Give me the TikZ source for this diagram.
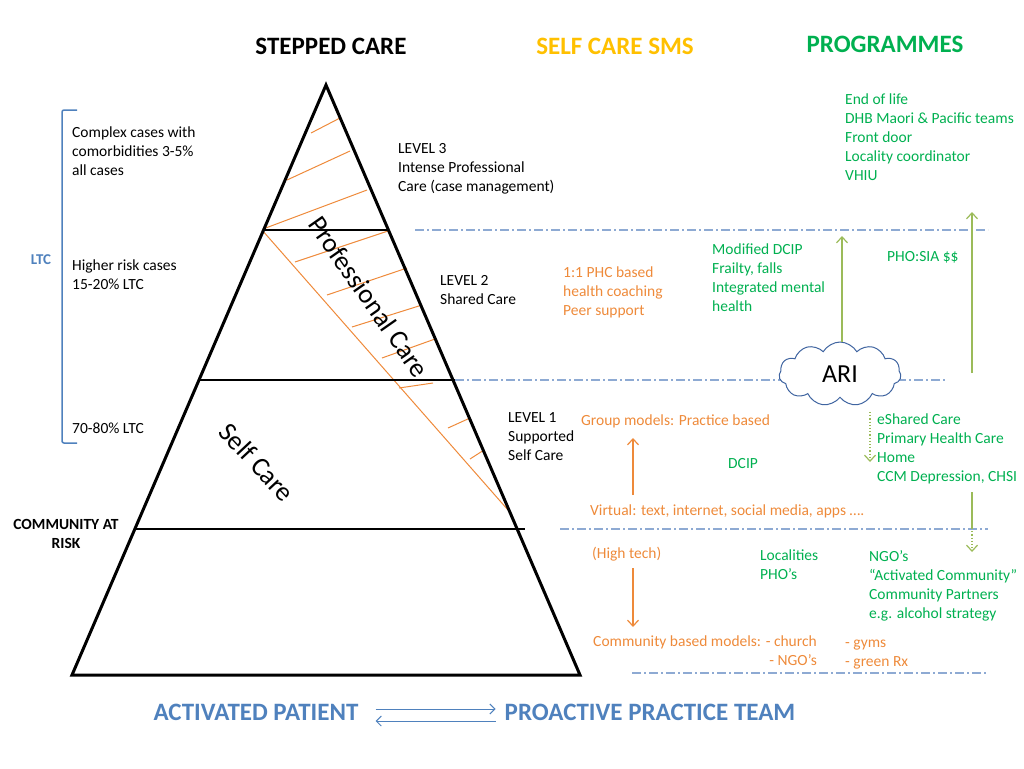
\documentclass[tikz,border=0pt]{standalone}
\usepackage{fontspec}
\setmainfont{Carlito}
\usetikzlibrary{arrows.meta,positioning,calc,shapes.symbols}
\definecolor{Grn}{HTML}{00B050}
\definecolor{Org}{HTML}{EE8A3A}
\definecolor{Gold}{HTML}{FFC000}
\definecolor{Blu}{HTML}{4F81BD}
\definecolor{Olive}{HTML}{9BBB59}
\definecolor{SepBlue}{HTML}{8EAAD3}
\definecolor{CloudBlue}{HTML}{3F64A0}
\newcommand\bodyfont{\fontsize{15.5}{19}\selectfont}
\newcommand\headfont{\fontsize{25}{29}\selectfont\bfseries}

\begin{document}
\begin{tikzpicture}[x=1pt,y=-1pt,
txt/.style={font=\bodyfont,inner sep=0pt,align=left,anchor=north west},
grn/.style={txt,text=Grn},
org/.style={txt,text=Org},
head/.style={font=\headfont,inner sep=0pt},
rim/.style={line width=3pt,line join=miter},
tier/.style={line width=2.2pt},
hatch/.style={draw=Org,line width=1pt},
sep/.style={draw=SepBlue,line width=1.2pt,dash pattern=on 9pt off 3pt on 2pt off 3pt},
garr/.style={draw=Olive,line width=1.2pt,-{Straight Barb[length=6pt,width=11pt]}},
oarr/.style={draw=Org,line width=1.2pt,-{Straight Barb[length=6pt,width=11pt]}},
barr/.style={draw=Blu,line width=1pt,-{Straight Barb[length=5pt,width=10pt]}}]
\useasboundingbox (0,0) rectangle (1024,768);
% headings
\node[head] (stepped) at (331,46) {STEPPED CARE};
\node[head,text=Gold] (sms) at (615,46) {SELF CARE SMS};
\node[head,text=Grn] (prog) at (885,44) {PROGRAMMES};
% LTC bracket
\draw[Blu,line width=1.5pt,rounded corners=2pt] (77,110) -- (62,110) -- (62,443) -- (77,443);
\node[font=\fontsize{15}{17}\selectfont\bfseries,text=Blu,inner sep=0pt] (ltc) at (41,260) {LTC};
\node[txt] (complex) at (72,127) {Complex cases with\\comorbidities 3-5\%\\all cases};
\node[txt] (higher) at (72,260) {Higher risk cases\\15-20\% LTC};
\node[txt] (most) at (72,423) {70-80\% LTC};
\node[txt,align=center,anchor=north,font=\fontsize{15.5}{19}\selectfont\bfseries] (risk) at (66,519) {COMMUNITY AT\\RISK};
% pyramid
\coordinate (apex) at (326,85);
\coordinate (bl) at (72,675);
\coordinate (br) at (580,675);
\foreach \xa/\ya/\xb/\yb in {311/133/340/118,287/180/350/151,263/229/367/190,
  295/262/388/231,327/295/407/268,352/327/422/305,382/358/435/339,
  399/388/433/383,448/428/470/418,470/459/484/450}
  \draw[hatch] (\xa,\ya) -- (\xb,\yb);
\draw[hatch] (262,230) -- (508,510);
\draw[rim] (bl) -- (apex) -- (br) -- cycle;
\draw[tier] (263,230) -- (389,230);
\draw[tier] (199,380) -- (455,380);
\draw[tier] (136,529) -- (525,529);
\node[font=\fontsize{27}{30}\selectfont,rotate=-55,inner sep=0pt] (prof) at (369,297) {Professional Care};
\node[font=\fontsize{27}{30}\selectfont,rotate=-47,inner sep=0pt] (self) at (257,462) {Self Care};
\node[txt] (lv3) at (398,143) {LEVEL 3\\Intense Professional\\Care (case management)};
\node[txt] (lv2) at (440,275) {LEVEL 2\\Shared Care};
\node[txt] (lv1) at (508,412) {LEVEL 1\\Supported\\Self Care};
% separators
\draw[sep] (415,230) -- (988,230);
\draw[sep] (455,380) -- (945,380);
\draw[sep] (560,529) -- (988,529);
\draw[sep] (632,673) -- (988,673);
% programmes
\node[grn] (plist) at (845,94) {End of life\\DHB Maori \& Pacific teams\\Front door\\Locality coordinator\\VHIU};
\node[grn] (mod) at (712,244) {Modified DCIP\\Frailty, falls\\Integrated mental\\health};
\node[grn] (sia) at (887,251) {PHO:SIA \$\$};
\node[cloud,cloud puffs=11,cloud puff arc=120,aspect=2,draw=CloudBlue,fill=white,line width=1pt,
  minimum width=122pt,minimum height=64pt,inner sep=0pt,font=\fontsize{26}{30}\selectfont] (ari) at (840,374) {ARI};
\node[grn] (eshared) at (877,414) {eShared Care\\Primary Health Care\\Home\\CCM Depression, CHSI};
\node[grn] (dcip) at (728,458) {DCIP};
\node[grn] (local) at (760,550) {Localities\\PHO’s};
\node[grn] (ngo) at (869,550) {NGO’s\\“Activated Community”\\Community Partners\\e.g. alcohol strategy};
% self care sms
\node[org] (coach) at (563,267) {1:1 PHC based\\health coaching\\Peer support};
\node[org] (group) at (581,415) {Group models: Practice based};
\node[org] (virtual) at (590,505) {Virtual: text, internet, social media, apps ….};
\node[org] (hightech) at (592,547) {(High tech)};
\node[org,align=right,anchor=north east] (commun) at (817,636) {Community based models: - church\\- NGO’s};
\node[org] (gyms) at (845,639.5) {- gyms\\- green Rx};
% arrows
\coordinate (modtop) at (842,236);
\coordinate (siatop) at (972,212);
\coordinate (siabot) at (972,373);
\coordinate (homeup) at (870,412);
\coordinate (homedn) at (870,462);
\coordinate (chsi) at (972,492);
\coordinate (chsimid) at (972,528);
\coordinate (chsidn) at (972,552);
\draw[garr] (ari.north -| modtop) -- (modtop);
\draw[garr] (siabot) -- (siatop);
\draw[garr,dotted] (homeup) -- (homedn);
\draw[Olive,line width=1.2pt] (chsi) -- (chsimid);
\draw[garr,dotted] (chsimid) -- (chsidn);
\coordinate (virtup) at (633,495);
\coordinate (grpdn) at (633,438);
\coordinate (techdn) at (633,568);
\coordinate (commup) at (633,627);
\draw[oarr] (virtup) -- (grpdn);
\draw[oarr] (techdn) -- (commup);
% bottom
\node[head,text=Blu] (pat) at (256,712) {ACTIVATED PATIENT};
\node[head,text=Blu] (team) at (650,712) {PROACTIVE PRACTICE TEAM};
\draw[barr] ([xshift=17pt,yshift=3pt]pat.east) -- ([xshift=-9pt,yshift=3pt]team.west);
\draw[barr] ([xshift=-9pt,yshift=-9pt]team.west) -- ([xshift=17pt,yshift=-9pt]pat.east);
\end{tikzpicture}
\end{document}
